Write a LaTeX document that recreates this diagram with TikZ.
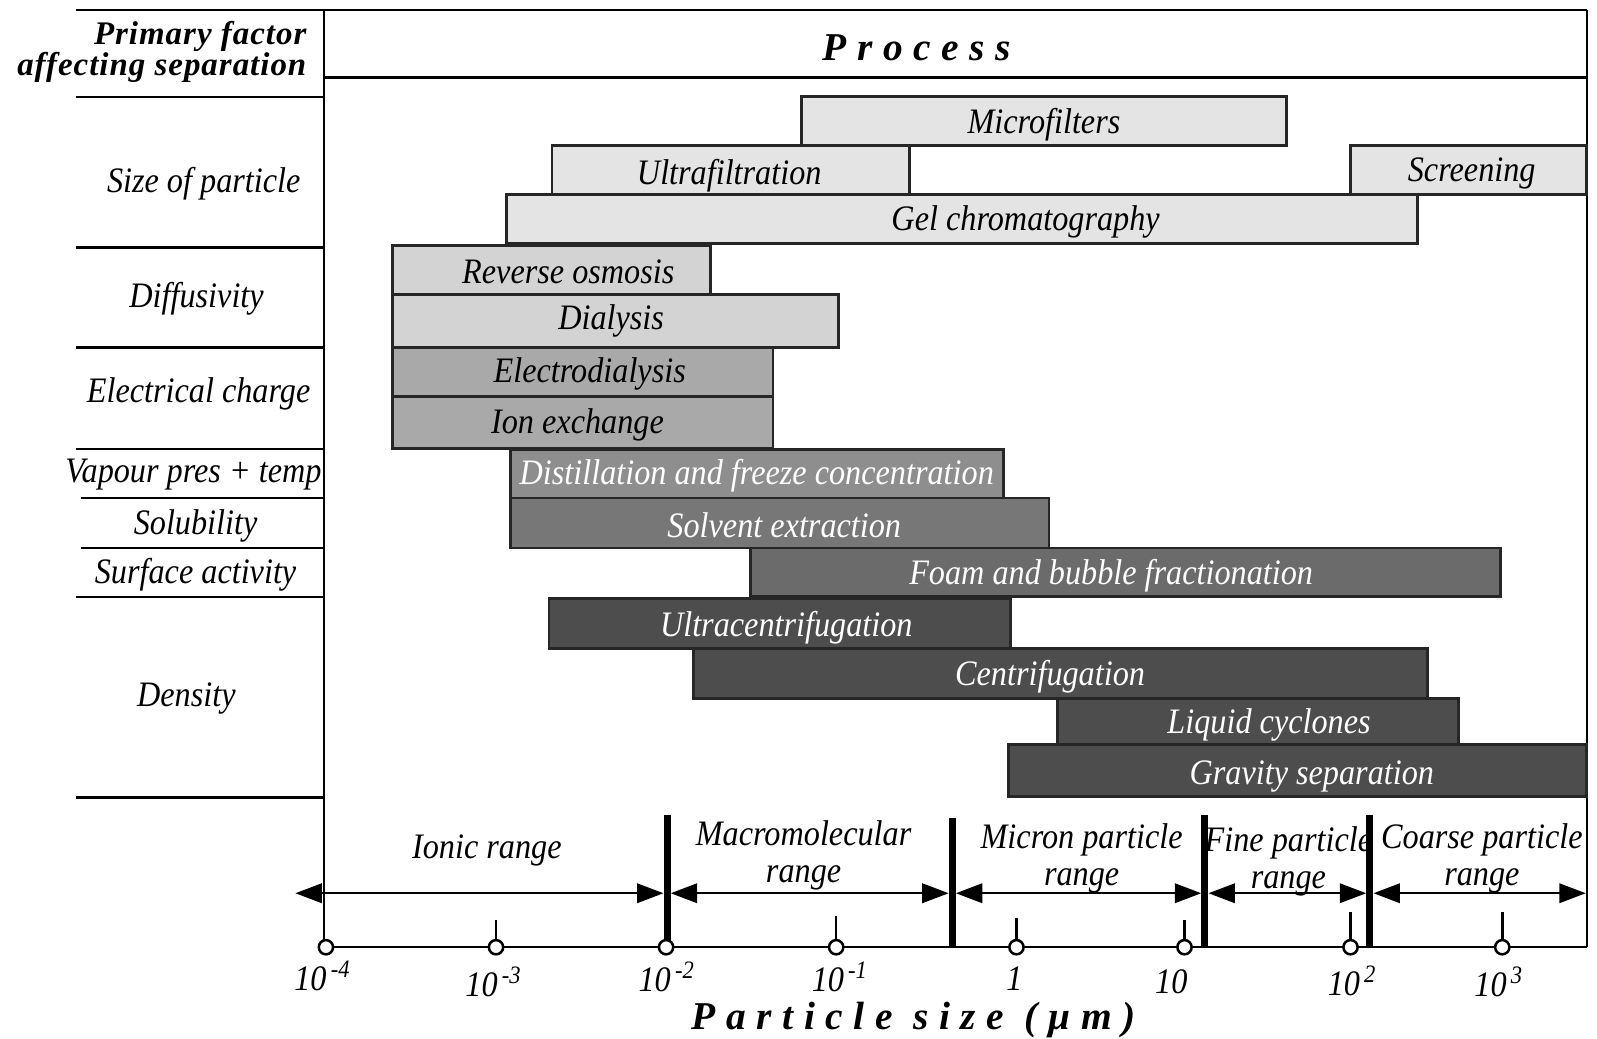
\documentclass[tikz,border=0pt]{standalone}
\usepackage{fontspec}
\setmainfont{Liberation Serif}[FakeStretch=0.9]
\newfontfamily\headfont{Liberation Serif}[LetterSpace=3]
\newfontfamily\spacedfont{Liberation Serif}[LetterSpace=27]
\usetikzlibrary{arrows.meta}

\definecolor{barA}{HTML}{E4E4E4}
\definecolor{barB}{HTML}{D3D3D3}
\definecolor{barC}{HTML}{A9A9A9}
\definecolor{barD}{HTML}{8E8E8E}
\definecolor{barE}{HTML}{777777}
\definecolor{barF}{HTML}{6B6B6B}
\definecolor{barG}{HTML}{4D4D4D}

\tikzset{
  factor/.style={font=\itshape\fontsize{10}{11}\selectfont, inner sep=0pt, yshift=-0.9pt},
  bartext/.style={font=\itshape\fontsize{10}{11}\selectfont, inner sep=0pt, yshift=-0.9pt},
  procbar/.style={draw=black!85, line width=0.8pt},
  rangetext/.style={font=\itshape\fontsize{10}{10.3}\selectfont, align=center, inner sep=0pt, yshift=-0.9pt},
  ticklabel/.style={font=\itshape\fontsize{10}{11}\selectfont, inner sep=0pt},
  tickmark/.style={circle, draw, fill=white, inner sep=0pt, minimum size=1.4mm, line width=0.7pt},
  sepline/.style={line width=1.9pt},
  rangearrow/.style={<->, line width=0.7pt}
}

\begin{document}
\begin{tikzpicture}[x=0.01cm, y=-0.01cm, line width=0.7pt,
  >={Triangle[length=2.6mm, width=1.9mm]}]
  \useasboundingbox (0,0) rectangle (1568,1020);

  % frame and rows
  \draw (75,10) -- (1558,10);
  \draw (318,10) -- (318,923);
  \draw (1558,10) -- (1558,930);
  \draw (318,76) -- (1558,76);
  \draw (75,95) -- (318,95) (75,243) -- (318,243) (75,341) -- (318,341)
        (75,441) -- (318,441) (80,489) -- (318,489) (80,538) -- (318,538)
        (75,586) -- (318,586) (75,783) -- (318,783);

  % headers
  \node[font=\headfont\bfseries\itshape\fontsize{9.2}{8.6}\selectfont, align=right, anchor=east, inner sep=0pt] (factorhead) at (302,51) {Primary factor\\affecting separation};
  \node[font=\spacedfont\bfseries\itshape\fontsize{11}{12}\selectfont, inner sep=0pt] (processhead) at (900,47) {Process};

  % factors
  \node[factor] (size) at (200,177) {Size of particle};
  \node[factor] (diffusivity) at (193,290) {Diffusivity};
  \node[factor] (charge) at (195,384) {Electrical charge};
  \node[factor] (vapour) at (190,463) {Vapour pres + temp};
  \node[factor] (solubility) at (192,513) {Solubility};
  \node[factor] (surface) at (192,561) {Surface activity};
  \node[factor] (density) at (183,683) {Density};

  % processes
  \draw[procbar, fill=barA] (787,95) rectangle (1263,143) node[bartext] (microfilters) at (1025,119) {Microfilters};
  \draw[procbar, fill=barA] (542,143) rectangle (893,191) node[bartext] (ultrafiltration) at (716,169) {Ultrafiltration};
  \draw[procbar, fill=barA] (1326,143) rectangle (1558,191) node[bartext] (screening) at (1445,167) {Screening};
  \draw[procbar, fill=barA] (497,191) rectangle (1392,239) node[bartext] (gel) at (1007,215) {Gel chromatography};
  \draw[procbar, fill=barB] (385,241) rectangle (698,289) node[bartext] (osmosis) at (558,264) {Reverse osmosis};
  \draw[procbar, fill=barB] (385,289) rectangle (823,341) node[bartext] (dialysis) at (600,312) {Dialysis};
  \draw[procbar, fill=barC] (385,341) rectangle (759,389) node[bartext] (electrodialysis) at (579,364) {Electrodialysis};
  \draw[procbar, fill=barC] (385,389) rectangle (759,440) node[bartext] (ionexchange) at (567,414) {Ion exchange};
  \draw[procbar, fill=barD] (501,441) rectangle (985,489) node[bartext, white] (distillation) at (743,464) {Distillation and freeze concentration};
  \draw[procbar, fill=barE] (501,489) rectangle (1030,538) node[bartext, white] (solvent) at (770,513) {Solvent extraction};
  \draw[procbar, fill=barF] (737,538) rectangle (1473,586) node[bartext, white] (foam) at (1091,562) {Foam and bubble fractionation};
  \draw[procbar, fill=barG] (539,588) rectangle (992,637) node[bartext, white] (ultracentrifugation) at (772,613) {Ultracentrifugation};
  \draw[procbar, fill=barG] (681,637) rectangle (1402,686) node[bartext, white] (centrifugation) at (1031,661) {Centrifugation};
  \draw[procbar, fill=barG] (1038,686) rectangle (1432,731) node[bartext, white] (cyclones) at (1246,709) {Liquid cyclones};
  \draw[procbar, fill=barG] (990,731) rectangle (1558,782) node[bartext, white] (gravity) at (1288,759) {Gravity separation};

  % particle size axis
  \coordinate (axisL) at (320,930);
  \coordinate (axisR) at (1558,930);
  \draw (axisL) -- (axisR);
  \draw[sepline] (655,800) -- (655,930);
  \draw[sepline] (935,803) -- (935,930);
  \draw[sepline] (1183,800) -- (1183,930);
  \draw[sepline] (1345,800) -- (1345,930);

  \node[tickmark] (t0) at (320,930) {};
  \node[tickmark] (t1) at (487,930) {};
  \node[tickmark] (t2) at (654,930) {};
  \node[tickmark] (t3) at (821,930) {};
  \node[tickmark] (t4) at (998,930) {};
  \node[tickmark] (t5) at (1163,930) {};
  \node[tickmark] (t6) at (1326,930) {};
  \node[tickmark] (t7) at (1475,930) {};
  \draw (t1.north) -- ++(0,-18) (t3.north) -- ++(0,-22) (t4.north) -- ++(0,-20)
        (t5.north) -- ++(0,-18) (t6.north) -- ++(0,-26) (t7.north) -- ++(0,-26);

  \node[ticklabel] (l0) at (317,958) {10\textsuperscript{\,-4}};
  \node[ticklabel] (l1) at (485,964) {10\textsuperscript{\,-3}};
  \node[ticklabel] (l2) at (655,959) {10\textsuperscript{\,-2}};
  \node[ticklabel] (l3) at (825,959) {10\textsuperscript{\,-1}};
  \node[ticklabel] (l4) at (996,961) {1};
  \node[ticklabel] (l5) at (1150,964) {10};
  \node[ticklabel] (l6) at (1328,963) {10\textsuperscript{\,2}};
  \node[ticklabel] (l7) at (1472,964) {10\textsuperscript{\,3}};
  \node[font=\spacedfont\bfseries\itshape\fontsize{11}{12}\selectfont, inner sep=0pt] (axistitle) at (897,1001) {Particle size (μm)};

  % ranges
  \coordinate (r0) at (290,877);
  \coordinate (r1) at (655,877);
  \coordinate (r2) at (935,877);
  \coordinate (r3) at (1183,877);
  \coordinate (r4) at (1345,877);
  \coordinate (r5) at (1557,877);
  \draw[rangearrow, shorten >=1pt] (r0) -- (r1);
  \draw[rangearrow, shorten <=1pt, shorten >=1pt] (r1) -- (r2);
  \draw[rangearrow, shorten <=1pt, shorten >=1pt] (r2) -- (r3);
  \draw[rangearrow, shorten <=1pt, shorten >=1pt] (r3) -- (r4);
  \draw[rangearrow, shorten <=1pt] (r4) -- (r5);

  \node[rangetext] (ionic) at (478,832) {Ionic range};
  \node[rangetext] (macro) at (789,837) {Macromolecular\\range};
  \node[rangetext] (micron) at (1062,840) {Micron particle\\range};
  \node[rangetext] (fine) at (1265,843) {Fine particle\\range};
  \node[rangetext] (coarse) at (1455,840) {Coarse particle\\range};
\end{tikzpicture}
\end{document}
